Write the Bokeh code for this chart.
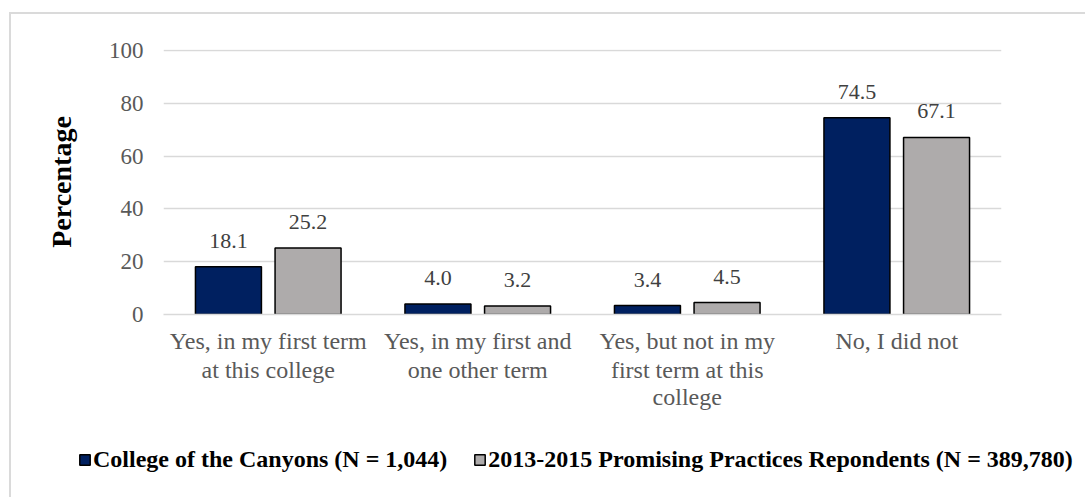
from bokeh.plotting import figure
from bokeh.models import (ColumnDataSource, Range1d, FixedTicker, Legend, LegendItem, LabelSet,
                          FactorRange, CategoricalAxis)
from bokeh.transform import dodge
from bokeh.embed import file_html
from bokeh.resources import INLINE

categories = ["Yes, in my first term at this college",
              "Yes, in my first and one other term",
              "Yes, but not in my first term at this college",
              "No, I did not"]
# wrapped category labels, one list per text line (blank entries differ only by spaces)
label_line1 = ["Yes, in my first term", "Yes, in my first and", "Yes, but not in my", "No, I did not"]
label_line2 = ["at this college", "one other term", "first term at this", " "]
label_line3 = ["  ", "   ", "college", "    "]
canyons = [18.1, 4.0, 3.4, 74.5]
promising = [25.2, 3.2, 4.5, 67.1]
series_names = ["College of the Canyons (N = 1,044)",
                "2013-2015 Promising Practices Repondents (N = 389,780)"]
y_ticks = [0, 20, 40, 60, 80, 100]

FONT = "Liberation Serif"
NAVY = "#002060"
GRAY = "#AEABAB"

src = ColumnDataSource(dict(
    cat=categories,
    a=canyons,
    b=promising,
    a_lbl=["%.1f" % v for v in canyons],
    b_lbl=["%.1f" % v for v in promising],
))

p = figure(x_range=FactorRange(*categories), y_range=Range1d(0, 100.4),
           width=1076, height=415, output_backend="svg", toolbar_location=None,
           x_axis_location=None,
           min_border_left=152, min_border_right=86, min_border_top=35, min_border_bottom=115)
p.styles = {"border-top": "2px solid #dadada", "border-left": "2px solid #dadada",
            "margin-top": "12px", "margin-left": "9px"}
p.outline_line_color = None
p.background_fill_color = "white"
p.border_fill_color = "white"

ra = p.vbar(x=dodge("cat", -0.19, range=p.x_range), top="a", width=0.315, source=src,
            fill_color=NAVY, line_color="black", line_width=1.5)
rb = p.vbar(x=dodge("cat", 0.19, range=p.x_range), top="b", width=0.315, source=src,
            fill_color=GRAY, line_color="black", line_width=1.5)

for col, off in (("a", -0.19), ("b", 0.19)):
    lbl = LabelSet(x=dodge("cat", off, range=p.x_range), y=col, text=col + "_lbl", source=src,
                   text_align="center", text_baseline="alphabetic", y_offset=19,
                   text_font=FONT, text_font_size="22px", text_color="#404040")
    p.add_layout(lbl)

# y axis
p.yaxis.ticker = FixedTicker(ticks=y_ticks)
p.yaxis.axis_line_color = None
p.yaxis.major_tick_line_color = None
p.yaxis.major_tick_out = 0
p.yaxis.major_tick_in = 0
p.yaxis.minor_tick_line_color = None
p.yaxis.major_label_text_font = FONT
p.yaxis.major_label_text_font_size = "23px"
p.yaxis.major_label_text_color = "#595959"
p.yaxis.major_label_standoff = 20
p.yaxis.axis_label = "Percentage"
p.yaxis.axis_label_text_font = FONT
p.yaxis.axis_label_text_font_size = "28px"
p.yaxis.axis_label_text_font_style = "bold"
p.yaxis.axis_label_text_color = "black"
p.yaxis.axis_label_standoff = 29

# x axis: one categorical axis per text line of the wrapped category labels
p.extra_x_ranges = {"l1": FactorRange(*label_line1),
                    "l2": FactorRange(*label_line2),
                    "l3": FactorRange(*label_line3)}
for name, standoff, line_col in (("l1", 13, "#d9d9d9"), ("l2", 0, None), ("l3", -2, None)):
    ax = CategoricalAxis(x_range_name=name)
    ax.axis_line_color = line_col
    ax.axis_line_width = 1.5
    ax.major_tick_line_color = None
    ax.major_tick_out = 0
    ax.major_tick_in = 0
    ax.minor_tick_line_color = None
    ax.major_label_text_font = FONT
    ax.major_label_text_font_size = "24px"
    ax.major_label_text_color = "#595959"
    ax.major_label_standoff = standoff
    ax.major_label_orientation = "horizontal"
    p.add_layout(ax, "below")

p.xgrid.grid_line_color = None
p.ygrid.grid_line_color = "#d9d9d9"
p.ygrid.grid_line_width = 1.5

# legend strip below the chart (hidden copies of the bar renderers supply the swatches)
leg = figure(x_range=FactorRange(*categories), y_range=Range1d(0, 100), width=1076, height=70,
             output_backend="svg", toolbar_location=None,
             x_axis_location=None, y_axis_location=None, min_border=0)
leg.styles = {"border-left": "2px solid #dadada", "margin-left": "9px"}
leg.outline_line_color = None
leg.xgrid.grid_line_color = None
leg.ygrid.grid_line_color = None
la = leg.vbar(x=dodge("cat", -0.19, range=leg.x_range), top="a", width=0.315, source=src,
              fill_color=NAVY, line_color="black", line_width=1.5, visible=False)
lb = leg.vbar(x=dodge("cat", 0.19, range=leg.x_range), top="b", width=0.315, source=src,
              fill_color=GRAY, line_color="black", line_width=1.5, visible=False)
legend = Legend(items=[LegendItem(label=series_names[0], renderers=[la]),
                       LegendItem(label=series_names[1], renderers=[lb])],
                orientation="horizontal", location=(67, 24))
legend.label_text_font = FONT
legend.label_text_font_size = "24px"
legend.label_text_font_style = "bold"
legend.label_text_color = "black"
legend.glyph_width = 13
legend.glyph_height = 13
legend.label_standoff = 2
legend.spacing = 26
legend.padding = 0
legend.margin = 0
legend.border_line_color = None
legend.background_fill_alpha = 0
legend.inactive_fill_alpha = 0
leg.add_layout(legend)

open("out.html", "w").write(file_html([p, leg], INLINE))
